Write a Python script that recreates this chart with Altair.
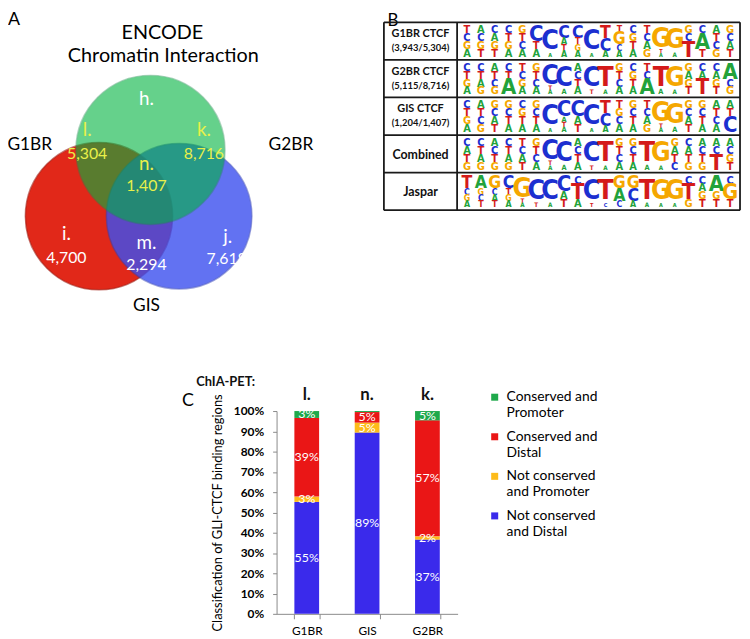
import altair as alt
import pandas as pd

# ---------------- data ----------------
# Panel A: Venn diagram
VENN_SETS = ["G1BR", "G2BR", "GIS"]
VENN_TITLE = ["ENCODE", "Chromatin Interaction"]
VENN_REGIONS = ["h.", "l.", "k.", "n.", "i.", "m.", "j."]
VENN_COUNTS = ["", "5,304", "8,716", "1,407", "4,700", "2,294", "7,618"]

# Panel B: motif table
TABLE_ROWS = ["G1BR CTCF", "G2BR CTCF", "GIS CTCF", "Combined", "Jaspar"]
TABLE_SUB = ["(3,943/5,304)", "(5,115/8,716)", "(1,204/1,407)", "", ""]
# each column listed top -> bottom, repeated letter = taller letter
LOGO_G1BR = ["TCGA", "ACGT", "CAGT", "CTGA", "GTCA", "CCTA", "CCCCCCCA", "CCATA", "CCTGA", "CCCCCCCA",
             "TTCCA", "TGGCA", "CGTA", "TCAG", "GGGGGGTA", "GGGGGGA", "GCTT", "CAAT", "ATCG", "GCAT"]
LOGO_G2BR = ["CTGA", "CTAG", "ATCG", "CTAA", "TCGA", "GTCA", "CCCCCTA", "CCCCCA", "ACTA", "CCCCCCT",
             "TTTTTTA", "GTCA", "CGTA", "TCAA", "TTTTTA", "GGGGGGA", "GAGT", "CATT", "CAGT", "AACG"]
LOGO_GIS = ["CTGA", "ATCG", "GCAT", "GCTA", "CGTA", "GCTA", "CCCCCCCA", "CCCATA", "CCAT", "CCCCCCCA",
            "TTCCA", "TGCA", "GCTA", "TCAG", "GGGGGTA", "GGGGGA", "GCAT", "GCTA", "ATCA", "ATCC"]
LOGO_COMBINED = ["CATG", "CTAG", "ACTG", "CTAG", "TCAT", "GTCA", "CCCCCTA", "CCCCCA", "ACTA", "CCCCCCT",
                 "TTTTTTA", "GTCA", "GCTA", "TTTTTA", "GGGGGGA", "GATC", "CATG", "ACTG", "ACTT", "ACGT"]
LOGO_JASPAR = ["TTCGA", "AAGCT", "GGCAT", "CCTGA", "GGGGGTA", "CCCCCCT", "CCCCCCA", "CCAT", "CTTA", "CCCCCCCT",
               "TTTTTTTC", "GGAAC", "GGCCA", "TTTTTTA", "GGGGGGGA", "GGGGGGGA", "CTTG", "CAGT", "AAGT", "CGGT"]
LOGOS = [LOGO_G1BR, LOGO_G2BR, LOGO_GIS, LOGO_COMBINED, LOGO_JASPAR]

# Panel C: stacked bars (percent)
GROUPS = ["G1BR", "GIS", "G2BR"]
HEADERS = ["l.", "n.", "k."]
CATEGORIES = ["Not conserved and Distal", "Not conserved and Promoter",
              "Conserved and Distal", "Conserved and Promoter"]          # bottom -> top
VAL_G1BR = [55.2, 2.6, 38.8, 3.4]
VAL_GIS = [89.4, 4.9, 5.2, 0.5]
VAL_G2BR = [36.6, 1.6, 57.2, 4.6]
Y_TITLE = "Classification of GLI-CTCF binding regions"

# ---------------- layout / style ----------------
FONT = "Lato"
W, H = 742, 631
canvas_x = alt.Scale(domain=[0, 750], range=[-8, 742])
canvas_y = alt.Scale(domain=[0, 639], range=[-8, 631])


def X(f):
    return alt.X(f, type="quantitative", scale=canvas_x, axis=None)


def Y(f):
    return alt.Y(f, type="quantitative", scale=canvas_y, axis=None)


# Venn circles: set, cx, cy, r, fill, opacity, edge, z
circ_layout = [
    ("G1BR", 100, 215, 84, "#e12819", 1.0, "#a01a10", 0),
    ("G2BR", 181, 215, 83, "#3c50f0", 0.8, "#3040b8", 1),
    ("ENCODE", 152, 148, 85, "#00b43f", 0.6, "#1c8a4c", 2),
]
circ_df = pd.DataFrame(circ_layout, columns=["set", "x", "y", "r", "fill", "op", "edge", "z"])
circ_df["area"] = 3.14159 * circ_df["r"] ** 2

venn_pos = [(148, 97), (88, 128), (206, 128), (148, 162), (67, 233), (148, 242), (230, 236)]
count_pos = [(0, 0), (88, 152), (206, 152), (148, 185), (67, 257), (148, 264), (229, 258)]
YEL, WH = "#e8f04a", "#ffffff"
region_col = [WH, YEL, YEL, YEL, WH, WH, WH]

txt = []
for lab, (x, y), c in zip(VENN_REGIONS, venn_pos, region_col):
    txt.append(dict(t=lab, x=x, y=y, fs=19, c=c))
for lab, (x, y), c in zip(VENN_COUNTS, count_pos, region_col):
    if lab:
        txt.append(dict(t=lab, x=x, y=y, fs=16, c=c))
set_pos = [(30, 143), (294, 143), (148, 306)]
for lab, (x, y) in zip(VENN_SETS, set_pos):
    txt.append(dict(t=lab, x=x, y=y, fs=17.5, c="#000000"))
txt.append(dict(t=VENN_TITLE[0], x=164, y=30, fs=20, c="#000000"))
txt.append(dict(t=VENN_TITLE[1], x=165, y=53, fs=20, c="#000000"))
txt.append(dict(t="A", x=14, y=17, fs=18, c="#000000"))
txt.append(dict(t="B", x=397, y=18, fs=17, c="#000000"))
txt.append(dict(t="C", x=190, y=402, fs=18, c="#000000"))
txt_df = pd.DataFrame(txt)

# table geometry
T_LEFT, T_DIV, T_RIGHT = 388, 462, 748
ROW_EDGES = [19, 57, 95, 133, 171, 209]
rules = []
for y in ROW_EDGES:
    rules.append(dict(x=T_LEFT, x2=T_RIGHT, y=y, y2=y))
for x in [T_LEFT, T_DIV, T_RIGHT]:
    rules.append(dict(x=x, x2=x, y=ROW_EDGES[0], y2=ROW_EDGES[-1]))
rules_df = pd.DataFrame(rules)

bold = []
for i, (a, b) in enumerate(zip(TABLE_ROWS, TABLE_SUB)):
    top, bot = ROW_EDGES[i], ROW_EDGES[i + 1]
    mid = (top + bot) / 2
    if b:
        bold.append(dict(t=a, x=425, y=mid - 7, fs=11))
        bold.append(dict(t=b, x=425, y=mid + 7, fs=9.5))
    else:
        bold.append(dict(t=a, x=425, y=mid + 1, fs=12.5))
bold.append(dict(t="ChIA-PET:", x=228, y=383, fs=13))
bold_df = pd.DataFrame(bold)

# sequence logos
LOGO_X0, LOGO_X1 = 465, 745
LETTER_COL = {"A": "#22a23a", "C": "#1c2fd0", "G": "#f5a700", "T": "#d41a1a"}
logo = []
for r, cols in enumerate(LOGOS):
    top = ROW_EDGES[r] + 3
    bot = ROW_EDGES[r + 1] - 3
    hh = bot - top
    cw = (LOGO_X1 - LOGO_X0) / len(cols)
    for c, s in enumerate(cols):
        segs = []
        for ch in s:
            if segs and segs[-1][0] == ch:
                segs[-1][1] += 1
            else:
                segs.append([ch, 1])
        tot = sum(w for _, w in segs)
        y = top
        for ch, w in segs:
            h = hh * w / tot
            fs = min(h / 0.72, 27)
            cap = fs * 0.72
            logo.append(dict(letter=ch, x=LOGO_X0 + (c + 0.5) * cw, y=y + h / 2 + cap / 2,
                             fs=fs, c=LETTER_COL[ch]))
            y += h
logo_df = pd.DataFrame(logo)

# ---------------- canvas layers ----------------
circles = alt.Chart(circ_df).mark_circle(strokeWidth=1.5, strokeOpacity=0.6).encode(
    x=X("x"), y=Y("y"),
    size=alt.Size("area:Q", scale=None),
    color=alt.Color("fill:N", scale=None),
    opacity=alt.Opacity("op:Q", scale=None),
    stroke=alt.Stroke("edge:N", scale=None),
    order=alt.Order("z:Q"),
)
texts = alt.Chart(txt_df).mark_text(font=FONT, baseline="middle", align="center").encode(
    x=X("x"), y=Y("y"), text="t:N",
    size=alt.Size("fs:Q", scale=None),
    color=alt.Color("c:N", scale=None),
)
bold_texts = alt.Chart(bold_df).mark_text(font=FONT, fontWeight="bold", baseline="middle",
                                           align="center").encode(
    x=X("x"), y=Y("y"), text="t:N",
    size=alt.Size("fs:Q", scale=None),
    color=alt.value("#111111"),
)
table = alt.Chart(rules_df).mark_rule(color="#1a1a1a", strokeWidth=1.8).encode(
    x=X("x"), x2="x2", y=Y("y"), y2="y2"
)
letters = alt.Chart(logo_df).mark_text(
    font="Liberation Sans Narrow, DejaVu Sans Condensed, Liberation Sans",
    fontWeight="bold", baseline="alphabetic", align="center").encode(
    x=X("x"), y=Y("y"), text="letter:N",
    size=alt.Size("fs:Q", scale=None),
    color=alt.Color("c:N", scale=None),
)
canvas = alt.layer(circles, texts, bold_texts, table, letters)

# ---------------- bar chart ----------------
vals = {"G1BR": VAL_G1BR, "GIS": VAL_GIS, "G2BR": VAL_G2BR}
bar_rows = []
for g in GROUPS:
    for k, (cat, v) in enumerate(zip(CATEGORIES, vals[g])):
        bar_rows.append(dict(group=g, category=cat, value=v, ord=k))
bar_df = pd.DataFrame(bar_rows)
head_df = pd.DataFrame({"group": GROUPS, "head": HEADERS})

BAR_COLORS = ["#3a2aeb", "#fdbb1a", "#ea1616", "#1fa94b"]
PX0, PX1, PY0, PY1 = 271.5, 454.5, 609, 404
xs = alt.Scale(domain=GROUPS, range=[PX0, PX1], paddingInner=0.59, paddingOuter=0.295)
ys = alt.Scale(domain=[0, 100], range=[PY0, PY1])

x_enc = alt.X("group:N", scale=xs, sort=GROUPS, axis=alt.Axis(
    title=None, offset=PY0 - H, tickBand="extent", labelAngle=0, labelFont=FONT,
    labelFontSize=12, labelColor="#000000", domainColor="#8a8a8a", tickColor="#8a8a8a",
    tickSize=5, labelPadding=7))

bars = alt.Chart(bar_df).mark_bar(size=25).encode(
    x=x_enc,
    y=alt.Y("value:Q", stack="zero", scale=ys, axis=alt.Axis(
        title=Y_TITLE, offset=-PX0, values=list(range(0, 101, 10)), labelExpr="datum.value + '%'",
        labelFont=FONT, labelFontWeight="bold", labelFontSize=12, labelColor="#000000",
        domainColor="#8a8a8a", tickColor="#8a8a8a", tickSize=4, labelPadding=9, grid=False,
        titleFont=FONT, titleFontSize=13, titleFontWeight="normal", titleColor="#000000",
        titlePadding=9)),
    color=alt.Color("category:N", scale=alt.Scale(domain=CATEGORIES[::-1], range=BAR_COLORS[::-1]),
                    legend=alt.Legend(orient="none", legendX=485, legendY=383, title=None,
                                      symbolType="square", symbolSize=50, symbolStrokeWidth=0,
                                      labelFont=FONT, labelFontSize=14, labelColor="#000000",
                                      labelExpr="[slice(datum.label,0,13), slice(datum.label,14)]",
                                      labelLimit=220, rowPadding=10, labelOffset=5)),
    order=alt.Order("ord:Q", sort="ascending"),
)
bar_text = alt.Chart(bar_df).transform_stack(
    stack="value", groupby=["group"], sort=[alt.SortField("ord", order="ascending")], as_=["v0", "v1"]
).transform_calculate(
    mid="(datum.v0 + datum.v1) / 2", lab="format(datum.value, '.0f') + '%'"
).transform_filter("datum.value >= 1").mark_text(font=FONT, fontSize=12.5, color="white").encode(
    x=alt.X("group:N", scale=xs, sort=GROUPS),
    y=alt.Y("mid:Q", scale=ys),
    text="lab:N",
)
heads = alt.Chart(head_df).mark_text(font=FONT, fontWeight="bold", fontSize=17, dy=-16,
                                     color="#111111").encode(
    x=alt.X("group:N", scale=xs, sort=GROUPS),
    y=alt.datum(100),
    text="head:N",
)
barchart = alt.layer(bars, bar_text, heads)

chart = alt.layer(canvas, barchart).resolve_scale(
    x="independent", y="independent", color="independent", size="independent"
).properties(width=W, height=H, padding=0, autosize="none", background="white").configure_view(stroke=None)

chart.save("out.html", embed_options={"renderer": "svg", "actions": False})
